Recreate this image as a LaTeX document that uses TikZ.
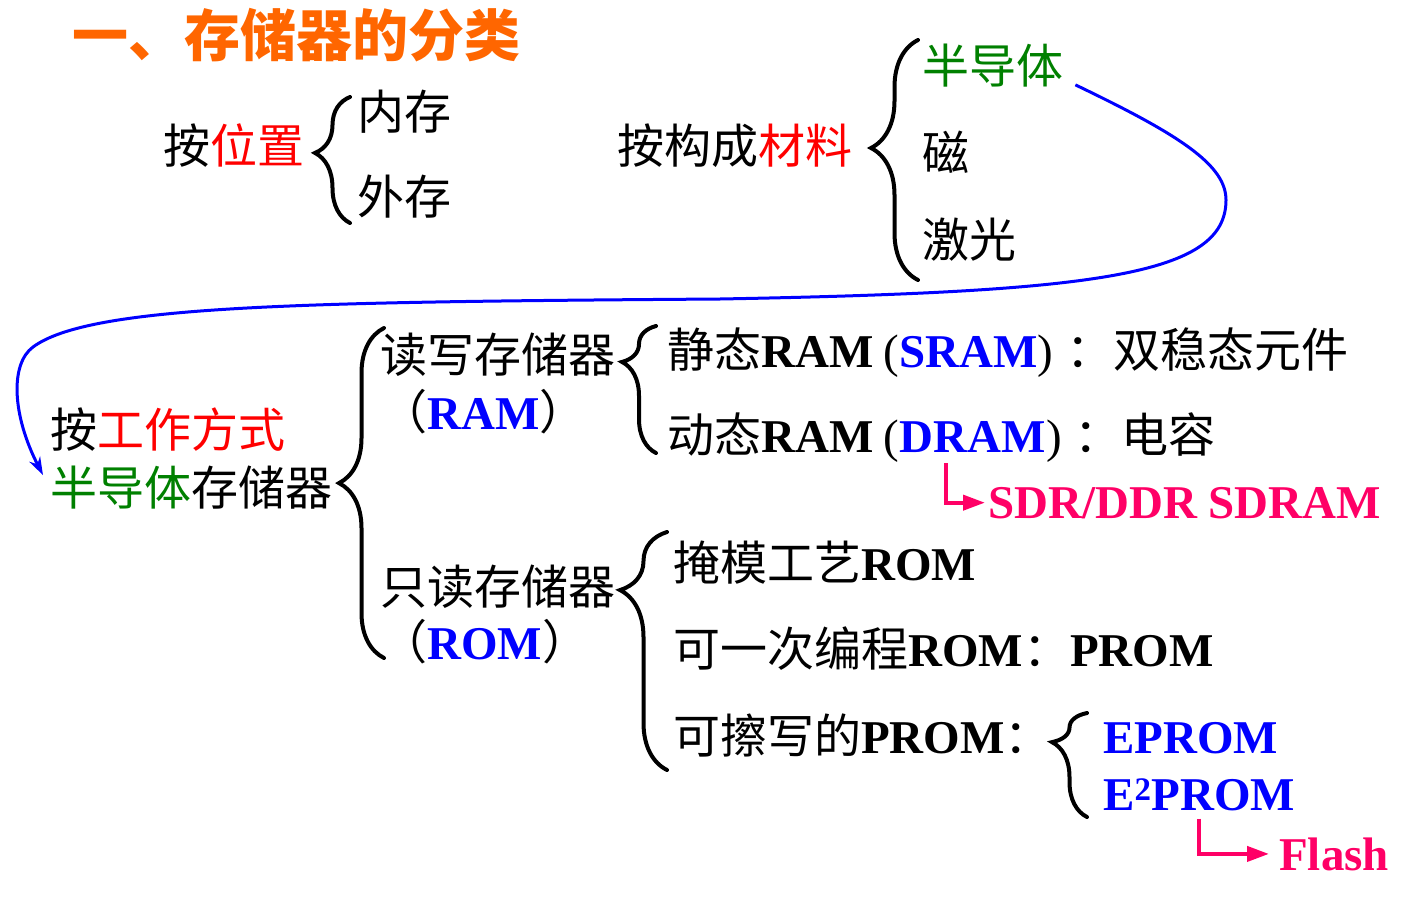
\documentclass[tikz,border=0pt]{standalone}
\usepackage{fontspec}
\setmainfont{Liberation Serif}
\newfontfamily\zh{Noto Sans CJK SC}
\usetikzlibrary{decorations.pathreplacing,arrows.meta}
\definecolor{myred}{RGB}{255,0,0}
\definecolor{mygreen}{RGB}{0,128,0}
\definecolor{myblue}{RGB}{0,0,255}
\definecolor{mypink}{RGB}{255,0,102}
\definecolor{myorange}{RGB}{255,102,0}
\newcommand\latb[1]{{\rmfamily\bfseries #1}}
\newcommand\latr[1]{{\rmfamily #1}}
\begin{document}
\begin{tikzpicture}[x=1pt,y=-1pt,
  txt/.style={anchor=base west,inner sep=0pt,font=\zh\fontsize{47}{52}\selectfont},
  brc/.style={line width=4pt,line cap=round,decorate},
  pinkarrow/.style={line width=4pt,draw=mypink,-{Triangle[length=22pt,width=15pt]}},
  bluearrow/.style={line width=3pt,draw=myblue,-{Stealth[length=18pt,width=12pt]}}]
\useasboundingbox (0,0) rectangle (1405,907);

% title
\node[txt,font=\zh\bfseries\fontsize{56}{60}\selectfont,text=myorange] (title) at (72,57) {一、存储器的分类};

% by position
\node[txt] (pos) at (163,163) {按\textcolor{myred}{位置}};
\node[txt] (nei) at (357,129) {内存};
\node[txt] (wai) at (357,214) {外存};
\draw[brc,decoration={brace,amplitude=35pt,aspect=0.556}] (350,223) -- (350,97);

% by material
\node[txt] (mat) at (617,163) {按构成\textcolor{myred}{材料}};
\node[txt,text=mygreen] (semi) at (922,84) {半导体};
\node[txt] (mag) at (922,170) {磁};
\node[txt] (laser) at (922,257) {激光};
\draw[brc,decoration={brace,amplitude=47pt,aspect=0.55}] (918,280) -- (918,40);

% by working mode
\node[txt] (work) at (50,447) {按\textcolor{myred}{工作方式}};
\node[txt] (sm) at (50,505) {\textcolor{mygreen}{半导体}存储器};
\draw[brc,decoration={brace,amplitude=45pt,aspect=0.53}] (384,658) -- (384,328);

\node[txt] (rw) at (380,372) {读写存储器};
\node[txt] (ram) at (380,429) {（\textcolor{myblue}{\latb{RAM}}）};
\draw[brc,decoration={brace,amplitude=34pt,aspect=0.717}] (656,453) -- (656,326);

\node[txt] (sram) at (667,367) {静态\latb{RAM}\latr{\hspace{10pt}(}\textcolor{myblue}{\latb{SRAM}}\latr{)}\hspace{13pt}：双稳态元件};
\node[txt] (dyn) at (667,452) {动态\latb{RAM}\latr{\hspace{10pt}(}};
\node[txt,text=myblue] (dram) at (dyn.base east) {\latb{DRAM}};
\node[txt] (dynb) at (dram.base east) {\latr{)}\hspace{13pt}：电容};
\node[txt,text=mypink] (sdr) at (988,518) {\latb{SDR/DDR SDRAM}};

\node[txt] (ro) at (380,604) {只读存储器};
\node[txt] (rom) at (380,659) {（\textcolor{myblue}{\latb{ROM}}）};
\draw[brc,decoration={brace,amplitude=47pt,aspect=0.756}] (667,770) -- (667,532);

\node[txt] (mask) at (673,580) {掩模工艺\latb{ROM}};
\node[txt] (prom) at (673,666) {可一次编程\latb{ROM}：\latb{PROM}};
\node[txt] (eprom) at (673,753) {可擦写的\latb{PROM}：};
\draw[brc,decoration={brace,amplitude=35pt,aspect=0.72}] (1087,817) -- (1087,713);
\node[txt,text=myblue] (ep) at (1103,753) {\latb{EPROM}};
\node[txt,text=myblue] (e2) at (1103,810) {\latb{E\textsuperscript{2}PROM}};
\node[txt,text=mypink] (flash) at (1279,870) {\latb{Flash}};

% connectors
\draw[bluearrow] ([xshift=12pt,yshift=3pt]semi.south east)
  .. controls (1180,135) and (1226,165) .. (1226,200)
  .. controls (1226,275) and (1100,292) .. (720,299)
  .. controls (300,302) and (90,305) .. (33,347)
  .. controls (10,364) and (12,415) .. ([xshift=-7pt,yshift=12pt]sm.west);
\draw[pinkarrow] ([xshift=-27pt,yshift=-11pt]dram.south) |- ([xshift=-3pt]sdr.west);
\draw[pinkarrow] ([yshift=-8pt]e2.south) |- ([xshift=-10pt]flash.west);
\end{tikzpicture}
\end{document}
